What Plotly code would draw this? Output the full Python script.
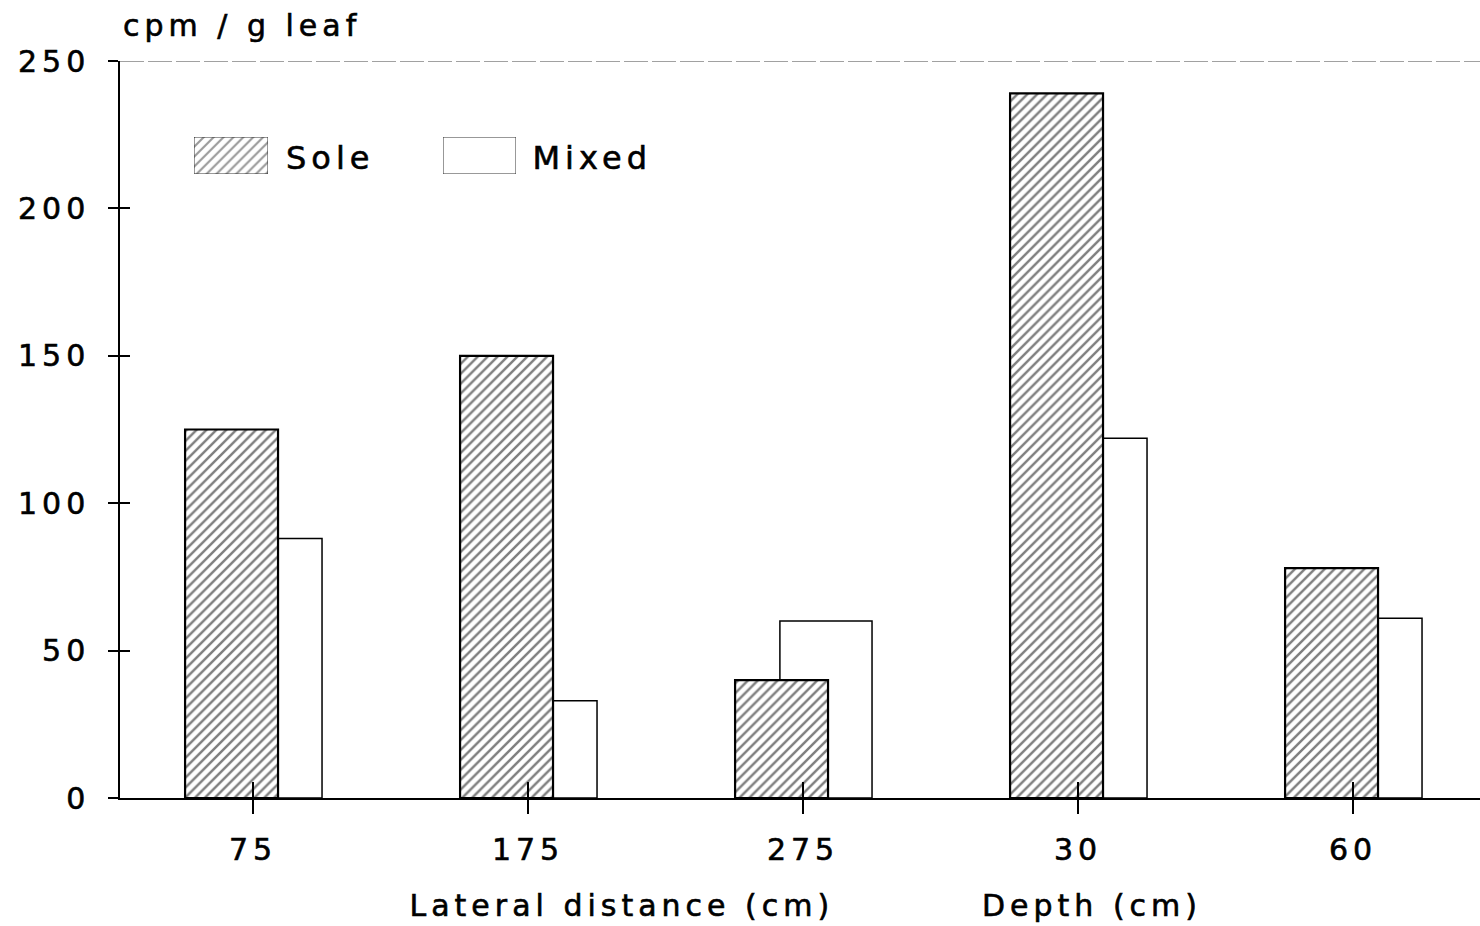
import plotly.graph_objects as go

# ---- data ----
categories = ["75", "175", "275", "30", "60"]
sole = [125, 150, 40, 239, 78]
mixed = [88, 33, 60, 122, 61]
y_ticks = [0, 50, 100, 150, 200, 250]
y_title = "cpm / g leaf"
group_titles = ["Lateral distance (cm)", "Depth (cm)"]
series_names = ["Sole", "Mixed"]

W, H = 1480, 926
ML, MR, MT, MB = 120, 0, 61, 128
FONT = "DejaVu Sans, sans-serif"
SPACING = 5

xpos = list(range(len(categories)))
xr = [(120 - 253) / 275.0, (1480 - 253) / 275.0]

fig = go.Figure()

# Mixed drawn first (behind), Sole on top
fig.add_trace(go.Bar(
    x=xpos, y=mixed, name=series_names[1], offset=-0.084, width=0.335,
    marker=dict(color="white", line=dict(color="black", width=1.5)),
    showlegend=False, hoverinfo="x+y"))
fig.add_trace(go.Bar(
    x=xpos, y=sole, name=series_names[0], offset=-0.247, width=0.338,
    marker=dict(color="white", line=dict(color="black", width=2.2),
                pattern=dict(shape="/", fgcolor="black", bgcolor="white",
                             size=7, solidity=0.35)),
    showlegend=False, hoverinfo="x+y"))

# legend swatches on small inset axes
fig.add_trace(go.Bar(x=[0], y=[1], width=1, xaxis="x2", yaxis="y2", showlegend=False,
                     hoverinfo="skip",
                     marker=dict(color="white", line=dict(color="#333", width=1),
                                 pattern=dict(shape="/", fgcolor="#333", bgcolor="white",
                                              size=7, solidity=0.3))))
fig.add_trace(go.Bar(x=[0], y=[1], width=1, xaxis="x3", yaxis="y3", showlegend=False,
                     hoverinfo="skip",
                     marker=dict(color="white", line=dict(color="#333", width=1))))
# overlay axes for the inner half of the crossing ticks
fig.add_trace(go.Scatter(x=[None], y=[None], xaxis="x4", yaxis="y4", showlegend=False,
                         hoverinfo="skip"))


def px_to_paper_x(px):
    return (px - ML) / (W - ML - MR)


def px_to_paper_y(py):
    return (H - MB - py) / (H - MT - MB)


hidden = dict(visible=False, fixedrange=True)

fig.update_layout(
    width=W, height=H,
    margin=dict(l=ML, r=MR, t=MT, b=MB),
    paper_bgcolor="white", plot_bgcolor="white",
    barmode="overlay",
    font=dict(family=FONT, size=30, color="black"),
    xaxis=dict(range=xr, tickmode="array", tickvals=xpos, ticktext=categories,
               showgrid=False, zeroline=False, showline=True, linecolor="black",
               linewidth=1.5, ticks="outside", ticklen=14, tickwidth=1.5,
               tickcolor="black", ticklabelstandoff=10, fixedrange=True),
    yaxis=dict(range=[0, 250], tickmode="array", tickvals=y_ticks,
               showgrid=False, zeroline=False, showline=True, linecolor="black",
               linewidth=1.5, ticks="outside", ticklen=10, tickwidth=1.5,
               tickcolor="black", ticklabelstandoff=12, fixedrange=True),
    xaxis4=dict(overlaying="x", anchor="y4", range=xr, tickmode="array", tickvals=xpos,
                showticklabels=False, showgrid=False, zeroline=False, showline=False,
                ticks="inside", ticklen=16, tickwidth=1.5, tickcolor="black",
                fixedrange=True),
    yaxis4=dict(overlaying="y", anchor="x4", range=[0, 250], tickmode="array",
                tickvals=y_ticks, showticklabels=False, showgrid=False, zeroline=False,
                showline=False, ticks="inside", ticklen=10, tickwidth=1.5,
                tickcolor="black", fixedrange=True),
    xaxis2=dict(domain=[px_to_paper_x(194), px_to_paper_x(268)], anchor="y2",
                range=[-0.5, 0.5], **hidden),
    yaxis2=dict(domain=[px_to_paper_y(174), px_to_paper_y(137)], anchor="x2",
                range=[0, 1], **hidden),
    xaxis3=dict(domain=[px_to_paper_x(443), px_to_paper_x(516)], anchor="y3",
                range=[-0.5, 0.5], **hidden),
    yaxis3=dict(domain=[px_to_paper_y(174), px_to_paper_y(137)], anchor="x3",
                range=[0, 1], **hidden),
)

# top border line
fig.add_shape(type="line", xref="paper", yref="y", x0=0, x1=1, y0=250, y1=250,
              line=dict(color="#444", width=1, dash="24px,4px"))

annotations = [
    dict(text=y_title, xref="paper", yref="paper", x=px_to_paper_x(243), y=1,
         xanchor="center", yanchor="bottom", yshift=16, showarrow=False,
         font=dict(size=30)),
    dict(text=series_names[0], xref="paper", yref="paper", x=px_to_paper_x(330),
         y=px_to_paper_y(158), xanchor="center", yanchor="middle", showarrow=False,
         font=dict(size=32)),
    dict(text=series_names[1], xref="paper", yref="paper", x=px_to_paper_x(592),
         y=px_to_paper_y(158), xanchor="center", yanchor="middle", showarrow=False,
         font=dict(size=32)),
    dict(text=group_titles[0], xref="x", yref="paper", x=1.34, y=0, xanchor="center",
         yanchor="top", yshift=-88, showarrow=False, font=dict(size=30)),
    dict(text=group_titles[1], xref="x", yref="paper", x=3.05, y=0, xanchor="center",
         yanchor="top", yshift=-88, showarrow=False, font=dict(size=30)),
]
fig.update_layout(annotations=annotations)

js = """
document.body.style.margin='0';
document.querySelectorAll('.main-svg text').forEach(function(t){
  t.style.letterSpacing='%dpx';
  t.style.stroke='black';
  t.style.strokeWidth='0.6px';
});
""" % SPACING
fig.write_html("out.html", post_script=js, config={"displayModeBar": False})
